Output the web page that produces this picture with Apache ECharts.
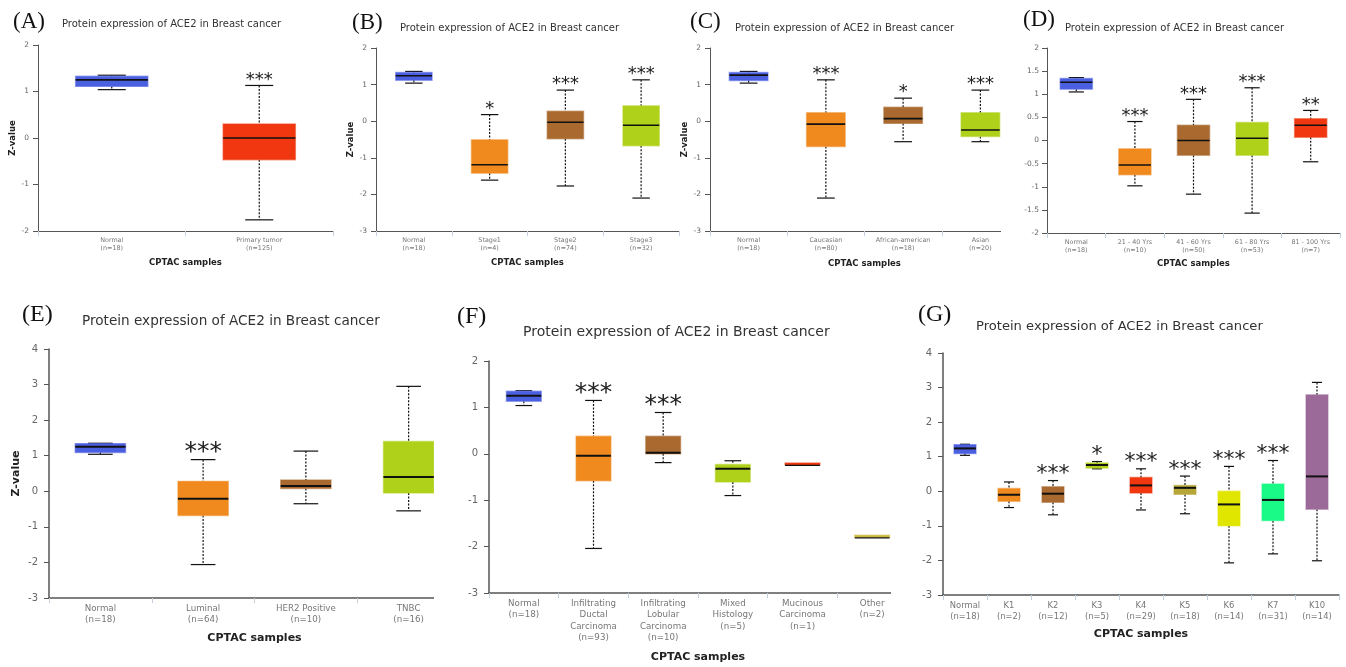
<!DOCTYPE html>
<html>
<head>
<meta charset="utf-8">
<title>ACE2 protein expression in breast cancer</title>
<script src="https://cdn.jsdelivr.net/npm/echarts@6/dist/echarts.min.js"></script>
<style>
  html, body { margin: 0; padding: 0; background: #fff; }
  #chart { width: 1346px; height: 667px; }
</style>
</head>
<body>
<div id="chart"></div>
<script>
// values: [min, q1, median, q3, max]
const catsA = ['Normal\n(n=18)', 'Primary tumor\n(n=125)'];
const boxA = [[1.04, 1.11, 1.25, 1.33, 1.35], [-1.76, -0.47, 0.0, 0.30, 1.13]];
const sigA = ['', '***'];

const catsB = ['Normal\n(n=18)', 'Stage1\n(n=4)', 'Stage2\n(n=74)', 'Stage3\n(n=32)'];
const boxB = [[1.04, 1.12, 1.24, 1.33, 1.36], [-1.61, -1.42, -1.19, -0.51, 0.18],
              [-1.77, -0.48, -0.03, 0.27, 0.85], [-2.10, -0.67, -0.11, 0.42, 1.13]];
const sigB = ['', '*', '***', '***'];

const catsC = ['Normal\n(n=18)', 'Caucasian\n(n=80)', 'African-american\n(n=18)', 'Asian\n(n=20)'];
const boxC = [[1.04, 1.11, 1.26, 1.33, 1.36], [-2.10, -0.69, -0.08, 0.23, 1.13],
              [-0.56, -0.06, 0.07, 0.38, 0.63], [-0.56, -0.42, -0.24, 0.23, 0.85]];
const sigC = ['', '***', '*', '***'];

const catsD = ['Normal\n(n=18)', '21 - 40 Yrs\n(n=10)', '41 - 60 Yrs\n(n=50)', '61 - 80 Yrs\n(n=53)', '81 - 100 Yrs\n(n=7)'];
const boxD = [[1.05, 1.11, 1.26, 1.34, 1.36], [-0.98, -0.74, -0.53, -0.18, 0.41],
              [-1.16, -0.32, 0.0, 0.33, 0.89], [-1.57, -0.32, 0.05, 0.39, 1.14],
              [-0.46, 0.07, 0.33, 0.47, 0.65]];
const sigD = ['', '***', '***', '***', '**'];

const catsE = ['Normal\n(n=18)', 'Luminal\n(n=64)', 'HER2 Positive\n(n=10)', 'TNBC\n(n=16)'];
const boxE = [[1.04, 1.09, 1.25, 1.34, 1.35], [-2.06, -0.68, -0.21, 0.28, 0.89],
              [-0.35, 0.08, 0.15, 0.32, 1.13], [-0.55, -0.05, 0.40, 1.40, 2.95]];
const sigE = ['', '***', '', ''];

const catsF = ['Normal\n(n=18)', 'Infiltrating\nDuctal\nCarcinoma\n(n=93)', 'Infiltrating\nLobular\nCarcinoma\n(n=10)',
               'Mixed\nHistology\n(n=5)', 'Mucinous\nCarcinoma\n(n=1)', 'Other\n(n=2)'];
const boxF = [[1.04, 1.13, 1.25, 1.35, 1.36], [-2.04, -0.58, -0.04, 0.38, 1.15],
              [-0.19, 0.0, 0.02, 0.38, 0.89], [-0.90, -0.61, -0.32, -0.23, -0.15],
              [-0.25, -0.25, -0.25, -0.25, -0.25], [-1.81, -1.81, -1.81, -1.81, -1.81]];
const sigF = ['', '***', '***', '', '', ''];

const catsG = ['Normal\n(n=18)', 'K1\n(n=2)', 'K2\n(n=12)', 'K3\n(n=5)', 'K4\n(n=29)',
               'K5\n(n=18)', 'K6\n(n=14)', 'K7\n(n=31)', 'K10\n(n=14)'];
const boxG = [[1.04, 1.09, 1.24, 1.35, 1.36], [-0.47, -0.29, -0.10, 0.08, 0.27],
              [-0.68, -0.32, -0.07, 0.13, 0.31], [0.65, 0.67, 0.76, 0.82, 0.86],
              [-0.54, -0.05, 0.17, 0.40, 0.65], [-0.65, -0.09, 0.10, 0.17, 0.44],
              [-2.07, -1.00, -0.38, 0.0, 0.72], [-1.81, -0.85, -0.25, 0.21, 0.89],
              [-2.01, -0.52, 0.43, 2.79, 3.15]];
const sigG = ['', '', '***', '*', '***', '***', '***', '***', ''];

const TITLE = 'Protein expression of ACE2 in Breast cancer';

// colours
const blue = '#4b5fe1', red = '#f0370f', orange = '#f08a1e', brown = '#a9692f',
      lime = '#b0d11a', olive = '#b5a637', yellow = '#e1e600', green = '#19fa86', purple = '#9c6a98';

const small = {tick: 7.5, cat: 6.4, catLH: 8, name: 8.5, title: 10, star: 18, med: 1.6, letter: 23};
const big = {tick: 10, cat: 8.7, catLH: 11.3, name: 11, title: 13.6, star: 25, med: 2, letter: 24};

const panels = [
  {letter: '(A)', lx: 13, ly: 22, tx: 62, ty: 24, cats: catsA, box: boxA, sig: sigA, colors: [blue, red],
   grid: {left: 38, top: 45, width: 295, height: 186}, y: [-2, 2, 1], f: small,
   boxFrac: 0.49, capFrac: 0.19, yGap: 19, xGap: 27, yMargin: 9},
  {letter: '(B)', lx: 352, ly: 23, tx: 400, ty: 28, cats: catsB, box: boxB, sig: sigB, colors: [blue, orange, brown, lime],
   grid: {left: 376, top: 48, width: 303, height: 183}, y: [-3, 2, 1], f: small,
   boxFrac: 0.48, capFrac: 0.23, yGap: 20, xGap: 27, yMargin: 9},
  {letter: '(C)', lx: 690, ly: 22, tx: 735, ty: 28, cats: catsC, box: boxC, sig: sigC, colors: [blue, orange, brown, lime],
   grid: {left: 710, top: 48, width: 309, height: 183}, y: [-3, 2, 1], f: small,
   boxFrac: 0.5, capFrac: 0.23, yGap: 19, xGap: 28, yMargin: 9},
  {letter: '(D)', lx: 1023, ly: 20, tx: 1065, ty: 28, cats: catsD, box: boxD, sig: sigD, colors: [blue, orange, brown, lime, red],
   grid: {left: 1047, top: 48, width: 293, height: 185}, y: [-2, 2, 0.5], f: small,
   boxFrac: 0.55, capFrac: 0.26, yGap: 26, xGap: 26, yMargin: 8},
  {letter: '(E)', lx: 22, ly: 315, tx: 82, ty: 321, cats: catsE, box: boxE, sig: sigE, colors: [blue, orange, brown, lime],
   grid: {left: 49, top: 349, width: 411, height: 249}, y: [-3, 4, 1], f: big,
   boxFrac: 0.49, capFrac: 0.24, yGap: 27, xGap: 35, yMargin: 11},
  {letter: '(F)', lx: 457, ly: 317, tx: 523, ty: 332, cats: catsF, box: boxF, sig: sigF, colors: [blue, orange, brown, lime, red, '#c9b83a'],
   grid: {left: 489, top: 361, width: 418, height: 232}, y: [-3, 2, 1], f: Object.assign({}, big, {title: 14}),
   boxFrac: 0.5, capFrac: 0.24, yGap: 28, xGap: 59, yMargin: 11},
  {letter: '(G)', lx: 918, ly: 315, tx: 976, ty: 327, cats: catsG, box: boxG, sig: sigG,
   colors: [blue, orange, brown, lime, red, olive, yellow, green, purple],
   grid: {left: 943, top: 353, width: 396, height: 242}, y: [-3, 4, 1], f: Object.assign({}, big, {title: 13.1, star: 22, cat: 8.4}),
   boxFrac: 0.5, capFrac: 0.23, yGap: 25, xGap: 34, yMargin: 11}
];

// the source figure crops panels C, E and F at their right edge
const masks = [[1001, 40, 20, 215], [434, 340, 28, 280], [891, 350, 25, 280]];

function makeRender(p) {
  return function (params, api) {
    const i = api.value(0);
    const band = api.size([1, 0])[0];
    const cx = api.coord([i, 0])[0];
    const yLow = api.coord([i, api.value(1)])[1];
    const yQ1 = api.coord([i, api.value(2)])[1];
    const yMed = api.coord([i, api.value(3)])[1];
    const yQ3 = api.coord([i, api.value(4)])[1];
    const yHigh = api.coord([i, api.value(5)])[1];
    const bw = band * p.boxFrac, cw = band * p.capFrac;
    const col = p.colors[params.dataIndex];
    const single = yLow - yHigh < 0.5;
    const dash = {stroke: '#111', lineWidth: 1.2, lineDash: [2, 1.5]};
    const solid = {stroke: '#111', lineWidth: 1.2};
    const kids = [];
    if (!single) {
      kids.push({type: 'line', shape: {x1: cx, y1: yHigh, x2: cx, y2: yQ3}, style: dash});
      kids.push({type: 'line', shape: {x1: cx, y1: yQ1, x2: cx, y2: yLow}, style: dash});
      kids.push({type: 'line', shape: {x1: cx - cw / 2, y1: yHigh, x2: cx + cw / 2, y2: yHigh}, style: solid});
      kids.push({type: 'line', shape: {x1: cx - cw / 2, y1: yLow, x2: cx + cw / 2, y2: yLow}, style: solid});
    }
    let top = yQ3, h = yQ1 - yQ3;
    if (h < 2) { top = yMed - 2.5; h = 2; }
    kids.push({type: 'rect', shape: {x: cx - bw / 2, y: top, width: bw, height: h},
      style: {fill: col, stroke: col, strokeOpacity: 0.5, lineWidth: 1.4}});
    kids.push({type: 'line', shape: {x1: cx - bw / 2, y1: yMed, x2: cx + bw / 2, y2: yMed},
      style: {stroke: '#111', lineWidth: single ? 1.2 : p.f.med}});
    const s = p.sig[params.dataIndex];
    if (s) {
      kids.push({type: 'text', x: cx, y: yHigh - 1 - 0.24 * p.f.star,
        style: {text: s, textAlign: 'center', textVerticalAlign: 'middle',
          fontSize: p.f.star, fontFamily: 'DejaVu Sans', fill: '#222', stroke: null, lineWidth: 0}});
    }
    return {type: 'group', children: kids};
  };
}

const grids = [], xAxes = [], yAxes = [], series = [], graphics = [];
panels.forEach(function (p, k) {
  grids.push(Object.assign({containLabel: false}, p.grid));
  xAxes.push({
    gridIndex: k, type: 'category', data: p.cats,
    axisLine: {onZero: false, lineStyle: {color: '#555', width: p.f === small ? 1 : 1.5}},
    axisTick: {show: true, length: 5, lineStyle: {color: '#c3cfdd'}},
    axisLabel: {interval: 0, fontSize: p.f.cat, lineHeight: p.f.catLH, color: '#777',
      fontFamily: 'DejaVu Sans', margin: 5},
    name: 'CPTAC samples', nameLocation: 'middle', nameGap: p.xGap,
    nameTextStyle: {fontWeight: 'bold', fontSize: p.f.name, color: '#222', fontFamily: 'DejaVu Sans'},
    splitLine: {show: false}
  });
  yAxes.push({
    gridIndex: k, type: 'value', min: p.y[0], max: p.y[1], interval: p.y[2],
    axisLine: {show: true, lineStyle: {color: '#555', width: p.f === small ? 1 : 1.5}},
    axisTick: {show: true, length: 5, lineStyle: {color: '#555'}},
    axisLabel: {fontSize: p.f.tick, color: '#666', fontFamily: 'DejaVu Sans', margin: p.yMargin},
    splitLine: {show: false},
    name: 'Z-value', nameLocation: 'middle', nameRotate: 90, nameGap: p.yGap,
    nameTextStyle: {fontWeight: 'bold', fontSize: p.f.name, color: '#222', fontFamily: 'DejaVu Sans'}
  });
  series.push({
    type: 'custom', xAxisIndex: k, yAxisIndex: k,
    data: p.box.map(function (b, i) { return [i].concat(b); }),
    encode: {x: 0, y: [1, 2, 3, 4, 5]},
    renderItem: makeRender(p),
    clip: false, silent: true
  });
  graphics.push({type: 'text', x: p.lx, y: p.ly,
    style: {text: p.letter, fontSize: p.f.letter, fontFamily: 'Liberation Serif',
      fill: '#111', textVerticalAlign: 'middle'}});
  graphics.push({type: 'text', x: p.tx, y: p.ty,
    style: {text: TITLE, fontSize: p.f.title, fontFamily: 'DejaVu Sans', fill: '#333',
      textVerticalAlign: 'middle'}});
});
masks.forEach(function (m) {
  graphics.push({type: 'rect', z: 100, shape: {x: m[0], y: m[1], width: m[2], height: m[3]},
    style: {fill: '#fff'}});
});

const chart = echarts.init(document.getElementById('chart'));
chart.setOption({
  backgroundColor: '#fff',
  animation: false,
  grid: grids,
  xAxis: xAxes,
  yAxis: yAxes,
  series: series,
  graphic: graphics
});
</script>
</body>
</html>
